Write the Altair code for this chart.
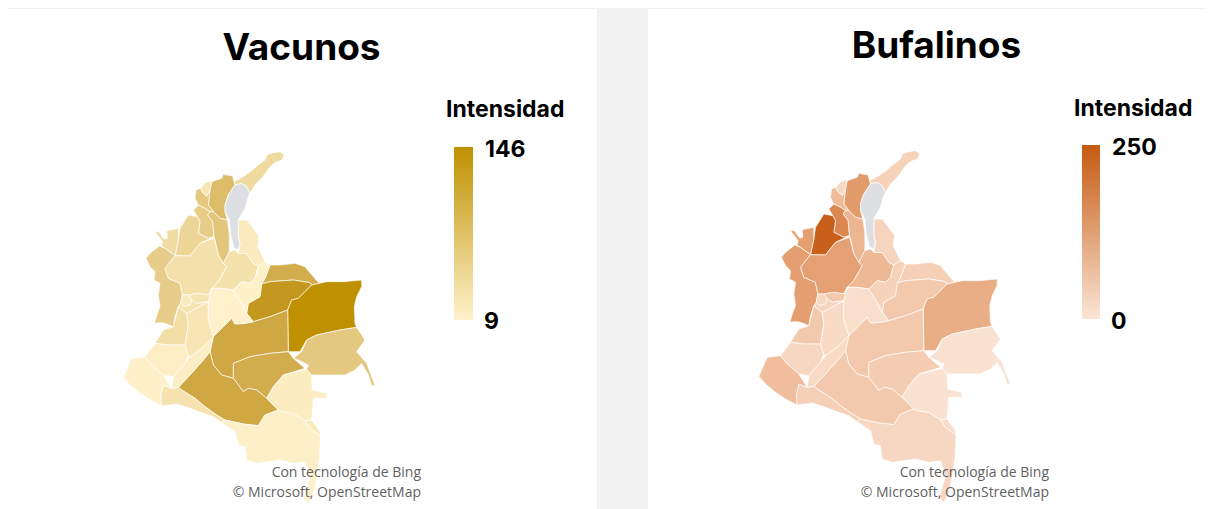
import altair as alt

# Department outlines (map units: 1/3 px, origin at px 110,140)
regions = {
 "La Guajira": [(372,125),(400,110),(425,92),(445,75),(465,60),(470,45),(490,38),(510,35),(523,45),(515,60),(495,68),(480,80),(470,95),(455,115),(435,135),(420,160),(410,140),(395,130),(375,135)],
 "Magdalena": [(305,125),(335,115),(340,103),(368,108),(372,125),(375,135),(355,165),(345,195),(345,215),(352,240),(330,235),(310,215),(295,195),(300,150)],
 "Atlantico": [(272,145),(285,128),(305,122),(300,150),(290,170),(275,155)],
 "Bolivar N": [(258,150),(272,145),(275,155),(290,170),(300,150),(295,195),(310,215),(300,215),(285,205),(265,195),(255,175)],
 "Sucre": [(250,210),(265,195),(285,205),(300,215),(293,225),(308,245),(312,290),(295,295),(265,280),(270,245),(262,230)],
 "Bolivar S": [(293,225),(300,215),(310,215),(330,235),(352,240),(358,280),(358,335),(340,370),(325,345),(315,300),(312,290),(308,245)],
 "Cordoba": [(235,225),(262,230),(270,245),(265,280),(295,295),(312,290),(270,310),(240,348),(195,347),(205,300),(210,265)],
 "Uraba": [(170,272),(205,265),(205,300),(195,347),(165,325),(155,318),(158,305),(148,292),(135,275),(145,274),(163,298),(172,295)],
 "Choco": [(108,355),(120,340),(148,318),(165,325),(195,347),(165,385),(175,415),(210,430),(217,465),(212,490),(205,500),(195,530),(190,560),(165,550),(150,548),(133,550),(142,520),(150,500),(145,465),(150,430),(132,420),(135,395),(120,380)],
 "Antioquia": [(195,347),(240,348),(270,310),(312,295),(325,345),(340,370),(350,380),(325,425),(305,445),(295,465),(265,460),(235,465),(217,465),(210,430),(175,415),(165,385)],
 "Santander": [(358,335),(375,330),(385,340),(410,340),(430,370),(445,378),(435,415),(420,430),(395,425),(370,450),(335,445),(305,445),(325,425),(350,380),(340,370)],
 "Norte": [(385,240),(410,240),(430,265),(447,290),(443,320),(465,365),(445,378),(430,370),(410,340),(385,340),(390,310),(385,290)],
 "Arauca": [(465,415),(480,375),(510,375),(555,370),(585,380),(610,410),(628,430),(605,435),(600,428),(550,420),(480,425),(455,432)],
 "Casanare": [(455,432),(480,425),(550,420),(600,428),(605,435),(565,475),(545,480),(533,510),(480,530),(430,545),(410,520),(415,490),(450,470)],
 "Vichada": [(605,435),(628,430),(650,425),(700,425),(755,420),(755,440),(740,470),(733,500),(735,550),(740,562),(690,570),(620,585),(590,600),(570,635),(535,635),(533,510),(545,480),(565,475)],
 "Meta": [(365,535),(375,552),(405,550),(430,545),(480,530),(533,510),(535,635),(480,640),(420,650),(370,670),(370,715),(335,705),(310,675),(300,635),(310,590),(325,575)],
 "Guaviare": [(370,670),(420,650),(480,640),(535,635),(550,655),(585,685),(520,705),(490,740),(470,775),(440,750),(415,745),(400,755),(370,715)],
 "Caqueta": [(300,635),(310,675),(335,705),(370,715),(400,755),(415,745),(440,750),(470,775),(505,810),(465,825),(445,857),(400,852),(345,840),(320,825),(285,800),(255,775),(215,750),(205,742),(240,705),(280,660)],
 "Putumayo": [(160,735),(185,745),(205,742),(215,750),(255,775),(285,800),(320,825),(345,840),(335,848),(310,830),(280,820),(240,805),(200,792),(155,798),(152,770)],
 "Amazonas": [(335,848),(345,840),(400,852),(445,857),(465,825),(505,810),(515,815),(550,820),(585,842),(600,865),(632,888),(628,960),(615,1040),(610,1060),(595,1092),(582,1075),(600,1010),(585,965),(550,970),(510,960),(440,970),(410,960),(405,920),(385,915),(375,875)],
 "Vaupes": [(470,775),(490,740),(520,705),(590,688),(605,705),(607,750),(650,760),(648,775),(610,775),(605,840),(585,842),(550,820),(515,815),(505,810)],
 "Vaupes S": [(585,842),(605,840),(630,875),(632,888),(600,865)],
 "Guainia": [(550,655),(575,635),(590,600),(620,585),(690,570),(740,562),(765,600),(740,635),(770,670),(785,710),(795,735),(785,738),(775,705),(755,670),(735,690),(705,705),(640,705),(605,705),(590,688),(595,675),(565,660)],
 "Valle": [(190,560),(205,500),(230,520),(235,555),(225,615),(175,615),(135,610),(160,570)],
 "Cauca": [(105,650),(135,610),(175,615),(225,615),(235,645),(225,670),(190,710),(160,705),(125,675)],
 "Narino": [(40,712),(65,655),(105,650),(125,675),(160,705),(185,745),(160,735),(152,770),(155,798),(120,780),(90,760),(60,735)],
 "Huila": [(190,710),(225,670),(240,650),(275,625),(310,590),(300,635),(280,660),(240,705),(205,742),(185,745)],
 "Tolima": [(230,520),(295,485),(295,540),(310,590),(275,625),(240,650),(235,645),(225,615),(235,555)],
 "Cundinamarca": [(305,445),(335,445),(370,450),(395,490),(410,520),(430,545),(405,550),(375,552),(365,535),(325,575),(310,590),(295,540),(295,485)],
 "Boyaca": [(370,450),(395,425),(420,430),(435,415),(445,378),(465,365),(480,375),(465,415),(455,432),(450,470),(415,490),(410,520),(395,490)],
 "Caldas": [(235,465),(265,460),(295,465),(305,445),(295,485),(260,490),(245,480)],
 "Risaralda": [(217,465),(235,465),(245,480),(240,495),(222,500),(212,490)],
 "Quindio": [(212,490),(222,500),(240,495),(245,480),(260,490),(295,485),(230,520),(205,500)],
}
nodata_outline = [(375,135),(395,130),(410,140),(420,160),(415,170),(405,205),(385,240),(385,290),(390,310),(385,330),(372,325),(362,285),(358,240),(345,215),(345,195),(355,165)]

vacunos_values = {"La Guajira":43,"Magdalena":85,"Atlantico":27,"Bolivar N":67,"Sucre":61,"Bolivar S":70,"Cordoba":50,"Uraba":40,"Choco":60,"Antioquia":34,"Santander":32,"Norte":20,"Arauca":105,"Casanare":135,"Vichada":146,"Meta":112,"Guaviare":105,"Caqueta":112,"Putumayo":31,"Amazonas":13,"Vaupes":17,"Vaupes S":20,"Guainia":67,"Valle":37,"Cauca":14,"Narino":11,"Huila":15,"Tolima":27,"Cundinamarca":10,"Boyaca":12,"Caldas":28,"Risaralda":20,"Quindio":28}
bufalinos_values = {"La Guajira":35,"Magdalena":135,"Atlantico":25,"Bolivar N":75,"Sucre":170,"Bolivar S":85,"Cordoba":240,"Uraba":130,"Choco":130,"Antioquia":125,"Santander":80,"Norte":30,"Arauca":38,"Casanare":50,"Vichada":100,"Meta":50,"Guaviare":45,"Caqueta":50,"Putumayo":38,"Amazonas":25,"Vaupes":5,"Vaupes S":15,"Guainia":5,"Valle":50,"Cauca":25,"Narino":70,"Huila":20,"Tolima":20,"Cundinamarca":12,"Boyaca":35,"Caldas":50,"Risaralda":25,"Quindio":30}

# Panel placement in the picture
panels = [
    {"name": "Vacunos", "x0": 6, "x1": 597, "y0": 9, "y1": 509, "mx": 110.0, "my": 140.0, "title": "Vacunos", "tx": 301.5, "ty": 60,
     "ix": 446, "iy": 117, "hi": "146", "lo": "9", "hx": 485, "hy": 157, "lx": 484, "ly": 329, "gx0": 454, "gx1": 473, "gy0": 147, "gy1": 320,
     "ax": 421, "ay1": 477, "ay2": 497, "low": "#FFF2CC", "high": "#BF9000", "dom": [9, 146], "values": vacunos_values},
    {"name": "Bufalinos", "x0": 648, "x1": 1206, "y0": 9, "y1": 509, "mx": 745.5, "my": 139.0, "title": "Bufalinos", "tx": 936.5, "ty": 58,
     "ix": 1074, "iy": 116, "hi": "250", "lo": "0", "hx": 1112, "hy": 155, "lx": 1111, "ly": 329, "gx0": 1082, "gx1": 1100, "gy0": 145, "gy1": 319,
     "ax": 1049, "ay1": 477, "ay2": 497, "low": "#FBE5D6", "high": "#C55A11", "dom": [0, 250], "values": bufalinos_values},
]

W, H = 1198, 501
X = alt.X("x:Q", axis=None, scale=alt.Scale(domain=[8, 1206], nice=False, zero=False))
Y = alt.Y("y:Q", axis=None, scale=alt.Scale(domain=[509, 8], nice=False, zero=False))
FONT = "Inter"


def feature(points, dx, dy, **props):
    ring = [[u / 3 + dx, v / 3 + dy] for u, v in points]
    ring.append(ring[0])
    return {"type": "Feature", "geometry": {"type": "Polygon", "coordinates": [ring]}, "properties": props}


proj = dict(type="identity", scale=1, translate=[-8, -8])
layers = []

backs = [{"x": max(p["x0"], 8), "x2": p["x1"], "y": p["y0"], "y2": p["y1"]} for p in panels]
layers.append(alt.Chart(alt.Data(values=backs)).mark_rect(color="#ffffff").encode(x=X, x2="x2:Q", y=Y, y2="y2:Q"))

for i, p in enumerate(panels):
    feats = [feature(pts, p["mx"], p["my"], name=n, value=p["values"][n]) for n, pts in regions.items()]
    layers.append(
        alt.Chart(alt.Data(values=feats)).mark_geoshape(stroke="#ffffff", strokeWidth=0.8, strokeOpacity=0.85).encode(
            color=alt.Color("properties.value:Q", legend=None,
                            scale=alt.Scale(domain=p["dom"], range=[p["low"], p["high"]]))
        ).project(**proj)
    )
    gray = [feature(nodata_outline, p["mx"], p["my"], name="Sin dato")]
    layers.append(
        alt.Chart(alt.Data(values=gray)).mark_geoshape(fill="#DDDFE3", stroke="#ffffff", strokeWidth=0.8).project(**proj)
    )
    grad = alt.Gradient(gradient="linear", stops=[alt.GradientStop(color=p["high"], offset=0), alt.GradientStop(color=p["low"], offset=1)], x1=0, x2=0, y1=0, y2=1)
    layers.append(
        alt.Chart(alt.Data(values=[{"x": p["gx0"], "x2": p["gx1"], "y": p["gy0"], "y2": p["gy1"]}])).mark_rect(color=grad).encode(x=X, x2="x2:Q", y=Y, y2="y2:Q")
    )
    layers.append(alt.Chart(alt.Data(values=[{"x": p["tx"], "y": p["ty"], "t": p["title"]}])).mark_text(font=FONT, fontWeight="bold", fontSize=37, color="#000000", align="center", baseline="alphabetic").encode(x=X, y=Y, text="t:N"))
    small = [{"x": p["ix"], "y": p["iy"], "t": "Intensidad"}, {"x": p["hx"], "y": p["hy"], "t": p["hi"]}, {"x": p["lx"], "y": p["ly"], "t": p["lo"]}]
    layers.append(alt.Chart(alt.Data(values=small)).mark_text(font=FONT, fontWeight="bold", fontSize=23, color="#000000", align="left", baseline="alphabetic").encode(x=X, y=Y, text="t:N"))
    attrib = [{"x": p["ax"], "y": p["ay1"], "t": "Con tecnología de Bing"}, {"x": p["ax"], "y": p["ay2"], "t": "© Microsoft, OpenStreetMap"}]
    layers.append(alt.Chart(alt.Data(values=attrib)).mark_text(font="Open Sans", fontSize=14, color="#5f5f5f", align="right", baseline="alphabetic").encode(x=X, y=Y, text="t:N"))

chart = alt.layer(*layers).resolve_scale(color="independent").properties(
    width=W, height=H, background="#f2f2f2", padding=0, autosize=alt.AutoSizeParams(type="none")
).configure_view(stroke=None)

chart.save("out.html", embed_options={"renderer": "svg", "actions": False})
